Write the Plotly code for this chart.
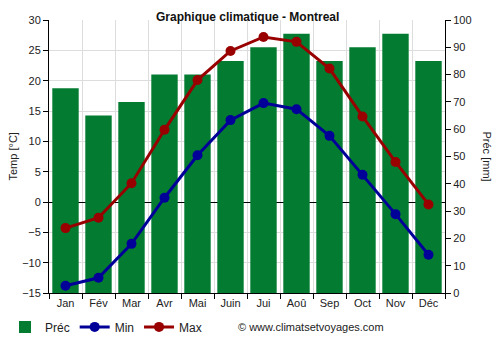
import plotly.graph_objects as go

months = ["Jan", "Fév", "Mar", "Avr", "Mai", "Juin", "Jui", "Aoû", "Sep", "Oct", "Nov", "Déc"]
prec = [75, 65, 70, 80, 80, 85, 90, 95, 85, 90, 95, 85]
tmin = [-13.8, -12.5, -6.9, 0.7, 7.7, 13.5, 16.3, 15.3, 10.9, 4.5, -2.0, -8.7]
tmax = [-4.3, -2.6, 3.1, 11.9, 20.1, 24.9, 27.2, 26.4, 22.0, 14.1, 6.6, -0.4]

GREEN = "#037b30"
BLUE = "#000099"
RED = "#990000"
FONT = "Liberation Sans, Arial, sans-serif"

# plot area in pixels
L, R, T, B = 49, 445, 20, 293
W, H = R - L, B - T


def px(x):
    return (x - L) / W


def py(y):
    return (B - y) / H


fig = go.Figure()
fig.add_trace(go.Bar(x=months, y=prec, name="Préc", marker=dict(color=GREEN, line=dict(width=0)),
                     yaxis="y"))
fig.add_trace(go.Scatter(x=months, y=tmin, name="Min", mode="lines+markers",
                         line=dict(color=BLUE, width=3), marker=dict(size=10, color=BLUE),
                         yaxis="y2"))
fig.add_trace(go.Scatter(x=months, y=tmax, name="Max", mode="lines+markers",
                         line=dict(color=RED, width=3), marker=dict(size=10, color=RED),
                         yaxis="y2"))

fig.update_layout(
    width=500, height=350,
    margin=dict(l=L, r=500 - R, t=T, b=350 - B, autoexpand=False),
    paper_bgcolor="white", plot_bgcolor="white",
    font=dict(family=FONT, size=11, color="#222"),
    bargap=0.2,
    showlegend=True,
    legend=dict(orientation="h", xref="container", yref="container", x=0.01, y=0.066,
                xanchor="left", yanchor="middle", font=dict(size=12, color="#222"),
                itemwidth=30, tracegroupgap=0, bgcolor="rgba(0,0,0,0)"),
    xaxis=dict(type="category", range=[-0.5, 11.5], tickson="boundaries", ticks="outside",
               ticklen=5, tickcolor="black", showgrid=True, gridcolor="#dddddd", gridwidth=1,
               showline=True, linecolor="black", linewidth=1, tickfont=dict(size=11)),
    yaxis=dict(side="right", range=[0, 100], dtick=10, showgrid=False, zeroline=False,
               showline=True, linecolor="black", ticks="outside", ticklen=5, tickcolor="black",
               tickfont=dict(size=11)),
    yaxis2=dict(side="left", overlaying="y", range=[-15, 30], dtick=5, showgrid=True,
                gridcolor="#dddddd", zeroline=True, zerolinecolor="black", zerolinewidth=1,
                showline=True, linecolor="black", ticks="outside", ticklen=5, tickcolor="black",
                tickfont=dict(size=11)),
    annotations=[
        dict(text="<b>Graphique climatique - Montreal</b>", xref="paper", yref="paper",
             x=0.5, y=py(17), xanchor="center", yanchor="middle", showarrow=False,
             font=dict(size=12, color="#111")),
        dict(text="Temp [°C]", xref="paper", yref="paper", x=px(12), y=0.5,
             textangle=-90, xanchor="center", yanchor="middle", showarrow=False,
             font=dict(size=11, color="#222")),
        dict(text="Préc [mm]", xref="paper", yref="paper", x=px(487), y=0.5,
             textangle=90, xanchor="center", yanchor="middle", showarrow=False,
             font=dict(size=11, color="#222")),
        dict(text="© www.climatsetvoyages.com", xref="paper", yref="paper",
             x=px(236), y=py(327), xanchor="left", yanchor="middle",
             showarrow=False, font=dict(size=11, color="#222")),
    ],
)

fig.write_html("out.html")
